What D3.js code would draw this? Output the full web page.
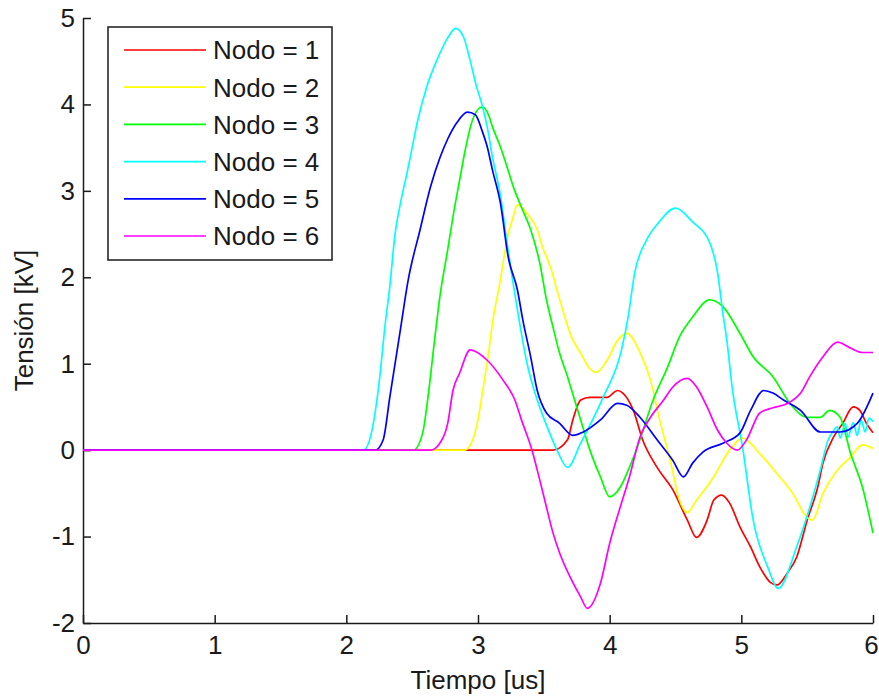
<!DOCTYPE html>
<html>
<head>
<meta charset="utf-8">
<script src="https://cdn.jsdelivr.net/npm/d3@7"></script>
<style>
    body { margin: 0; background: #fff; }
    svg { display: block; font-family: 'Liberation Sans', Arial, sans-serif; }
</style>
</head>
<body>
<svg id="chart" width="879" height="700"></svg>
<script>
// tiempo [us] / tension [kV] por nodo
const t1 = [0, 3.57, 3.68, 3.72, 3.78, 3.85, 3.98, 4.06, 4.10, 4.18, 4.25, 4.36, 4.48, 4.59, 4.66, 4.74, 4.79, 4.85, 4.91, 4.99, 5.07, 5.14, 5.22, 5.27, 5.35, 5.42, 5.50, 5.58, 5.62, 5.70, 5.77, 5.85, 5.90, 5.95, 6.0];
const v1 = [0, 0, 0.12, 0.35, 0.58, 0.61, 0.61, 0.69, 0.66, 0.46, 0.12, -0.20, -0.46, -0.81, -1.01, -0.81, -0.58, -0.52, -0.61, -0.89, -1.12, -1.35, -1.53, -1.56, -1.42, -1.24, -0.81, -0.43, -0.15, 0.15, 0.31, 0.50, 0.46, 0.31, 0.20];

const t2 = [0, 2.90, 2.96, 3.00, 3.04, 3.08, 3.11, 3.17, 3.23, 3.26, 3.30, 3.37, 3.45, 3.49, 3.55, 3.60, 3.65, 3.71, 3.78, 3.84, 3.90, 3.98, 4.06, 4.13, 4.23, 4.31, 4.38, 4.46, 4.53, 4.59, 4.66, 4.79, 4.91, 5.01, 5.14, 5.27, 5.39, 5.50, 5.54, 5.62, 5.73, 5.83, 5.92, 6.0];
const v2 = [0, 0, 0.12, 0.35, 0.73, 1.12, 1.47, 1.97, 2.51, 2.66, 2.84, 2.74, 2.55, 2.35, 2.12, 1.85, 1.59, 1.31, 1.12, 0.96, 0.90, 1.04, 1.27, 1.35, 1.13, 0.81, 0.35, -0.12, -0.58, -0.72, -0.58, -0.31, 0, 0.14, -0.04, -0.27, -0.50, -0.78, -0.81, -0.50, -0.23, -0.08, 0.06, 0.02];

const t3 = [0, 2.51, 2.58, 2.62, 2.67, 2.71, 2.77, 2.81, 2.86, 2.90, 2.95, 3.03, 3.08, 3.11, 3.17, 3.22, 3.27, 3.33, 3.40, 3.47, 3.52, 3.57, 3.62, 3.68, 3.72, 3.78, 3.85, 3.93, 4.00, 4.08, 4.15, 4.23, 4.33, 4.44, 4.53, 4.63, 4.76, 4.86, 4.99, 5.09, 5.24, 5.37, 5.50, 5.60, 5.67, 5.75, 5.83, 5.92, 6.0];
const v3 = [0, 0, 0.20, 0.61, 1.27, 1.77, 2.32, 2.70, 3.12, 3.45, 3.78, 3.97, 3.88, 3.74, 3.51, 3.28, 3.04, 2.81, 2.55, 2.16, 1.74, 1.42, 1.12, 0.85, 0.65, 0.35, 0, -0.31, -0.54, -0.43, -0.20, 0.12, 0.58, 0.96, 1.31, 1.54, 1.74, 1.66, 1.35, 1.08, 0.85, 0.54, 0.38, 0.38, 0.46, 0.38, -0.04, -0.43, -0.96];

const t4 = [0, 2.13, 2.20, 2.26, 2.29, 2.33, 2.37, 2.41, 2.46, 2.50, 2.54, 2.61, 2.69, 2.77, 2.83, 2.89, 2.94, 2.99, 3.03, 3.07, 3.11, 3.17, 3.22, 3.30, 3.37, 3.45, 3.52, 3.60, 3.68, 3.78, 3.95, 4.09, 4.14, 4.19, 4.28, 4.37, 4.50, 4.63, 4.76, 4.82, 4.86, 4.89, 4.93, 5.01, 5.09, 5.20, 5.28, 5.42, 5.52, 5.60, 5.66, 5.69, 5.73, 5.75, 5.79, 5.81, 5.85, 5.88, 5.91, 5.94, 5.97, 6.0];
const v4 = [0, 0, 0.27, 0.93, 1.39, 1.89, 2.50, 2.85, 3.20, 3.50, 3.80, 4.20, 4.52, 4.77, 4.88, 4.78, 4.51, 4.20, 4.00, 3.74, 3.39, 2.95, 2.40, 1.62, 1.02, 0.58, 0.29, 0, -0.20, 0.08, 0.61, 1.16, 1.54, 2.05, 2.43, 2.63, 2.80, 2.64, 2.40, 2.05, 1.58, 1.27, 0.73, 0.03, -0.81, -1.35, -1.60, -1.12, -0.66, -0.23, 0.12, 0.20, 0.27, 0.14, 0.31, 0.15, 0.32, 0.17, 0.35, 0.21, 0.37, 0.33];

const t5 = [0, 2.22, 2.28, 2.33, 2.41, 2.47, 2.56, 2.64, 2.71, 2.77, 2.84, 2.92, 2.98, 3.03, 3.07, 3.11, 3.17, 3.23, 3.30, 3.34, 3.40, 3.45, 3.52, 3.62, 3.72, 3.80, 3.93, 4.06, 4.13, 4.23, 4.36, 4.48, 4.56, 4.63, 4.71, 4.86, 4.99, 5.07, 5.17, 5.24, 5.32, 5.45, 5.60, 5.75, 5.88, 6.0];
const v5 = [0, 0, 0.12, 0.61, 1.39, 1.97, 2.55, 3.05, 3.38, 3.60, 3.79, 3.91, 3.88, 3.70, 3.51, 3.24, 2.86, 2.23, 1.85, 1.51, 1.08, 0.69, 0.43, 0.31, 0.17, 0.21, 0.35, 0.54, 0.52, 0.38, 0.12, -0.12, -0.31, -0.15, -0.02, 0.08, 0.20, 0.46, 0.69, 0.66, 0.58, 0.46, 0.21, 0.21, 0.31, 0.66];

const t6 = [0, 2.64, 2.71, 2.77, 2.81, 2.86, 2.94, 3.07, 3.19, 3.28, 3.33, 3.41, 3.47, 3.52, 3.57, 3.62, 3.70, 3.78, 3.83, 3.93, 4.00, 4.08, 4.15, 4.23, 4.31, 4.41, 4.48, 4.59, 4.66, 4.74, 4.82, 4.89, 4.97, 5.04, 5.14, 5.24, 5.35, 5.45, 5.52, 5.62, 5.73, 5.83, 5.92, 6.0];
const v6 = [0, 0, 0.08, 0.31, 0.69, 0.89, 1.16, 1.04, 0.81, 0.58, 0.35, 0, -0.35, -0.66, -0.96, -1.19, -1.47, -1.70, -1.83, -1.54, -1.08, -0.66, -0.31, 0.15, 0.38, 0.58, 0.73, 0.83, 0.73, 0.50, 0.23, 0.08, 0, 0.12, 0.43, 0.49, 0.54, 0.66, 0.85, 1.08, 1.25, 1.18, 1.13, 1.13];

const nodos = ['Nodo = 1', 'Nodo = 2', 'Nodo = 3', 'Nodo = 4', 'Nodo = 5', 'Nodo = 6'];
const colors = ['#ff0000', '#ffff00', '#00ff00', '#00ffff', '#0000ff', '#ff00ff'];
const xTicks = [0, 1, 2, 3, 4, 5, 6];
const yTicks = [-2, -1, 0, 1, 2, 3, 4, 5];

const times = [t1, t2, t3, t4, t5, t6];
const values = [v1, v2, v3, v4, v5, v6];

const margin = { left: 83, right: 873, top: 18, bottom: 623 };
const fontSize = 26;
const ink = '#1a1a1a';

const svg = d3.select('#chart');

const x = d3.scaleLinear().domain([0, 6]).range([margin.left, margin.right]);
const y = d3.scaleLinear().domain([-2, 5]).range([margin.bottom, margin.top]);

// matlab usa guion normal, no el signo menos de d3
const fmt = d => String(d);

const styleAxis = g => {
    g.attr('font-family', null).attr('font-size', fontSize);
    g.select('.domain').attr('stroke', ink).attr('stroke-width', 1.5);
    g.selectAll('.tick line').attr('stroke', ink).attr('stroke-width', 1.5);
    g.selectAll('.tick text').attr('fill', ink);
};

svg.append('g')
    .attr('transform', `translate(0, ${margin.bottom})`)
    .call(d3.axisBottom(x).tickValues(xTicks).tickFormat(fmt)
        .tickSizeInner(-8).tickSizeOuter(0).tickPadding(13))
    .call(styleAxis)
    .call(g => g.selectAll('.tick text').filter(d => d === 6).attr('dx', -2));

svg.append('g')
    .attr('transform', `translate(${margin.left}, 0)`)
    .call(d3.axisLeft(y).tickValues(yTicks).tickFormat(fmt)
        .tickSizeInner(-8).tickSizeOuter(0).tickPadding(8))
    .call(styleAxis);

const line = d3.line()
    .x(d => x(d[0]))
    .y(d => y(d[1]))
    .curve(d3.curveMonotoneX);

const series = times.map((t, i) => t.map((tt, j) => [tt, values[i][j]]));

svg.append('g')
    .selectAll('path')
    .data(series)
    .enter().append('path')
    .attr('d', line)
    .attr('fill', 'none')
    .attr('stroke', (d, i) => colors[i])
    .attr('stroke-width', 1.7)
    .attr('stroke-linejoin', 'round');

// etiquetas de ejes
svg.append('text')
    .attr('x', (margin.left + margin.right) / 2)
    .attr('y', 689)
    .attr('text-anchor', 'middle')
    .attr('font-size', fontSize)
    .attr('fill', ink)
    .text('Tiempo [us]');

svg.append('text')
    .attr('transform', `translate(33, ${(margin.top + margin.bottom) / 2}) rotate(-90)`)
    .attr('text-anchor', 'middle')
    .attr('font-size', fontSize)
    .attr('fill', ink)
    .text('Tensión [kV]');

// leyenda
const legend = svg.append('g');
legend.append('rect')
    .attr('x', 108).attr('y', 27)
    .attr('width', 224).attr('height', 233)
    .attr('fill', '#fff')
    .attr('stroke', ink)
    .attr('stroke-width', 1.5);

const row = legend.selectAll('g.row')
    .data(nodos)
    .enter().append('g')
    .attr('class', 'row')
    .attr('transform', (d, i) => `translate(0, ${50 + i * 37.2})`);

row.append('line')
    .attr('x1', 124).attr('x2', 206)
    .attr('stroke', (d, i) => colors[i])
    .attr('stroke-width', 1.7);

row.append('text')
    .attr('x', 213)
    .attr('dy', '0.36em')
    .attr('font-size', fontSize)
    .attr('fill', ink)
    .text(d => d);
</script>
</body>
</html>
